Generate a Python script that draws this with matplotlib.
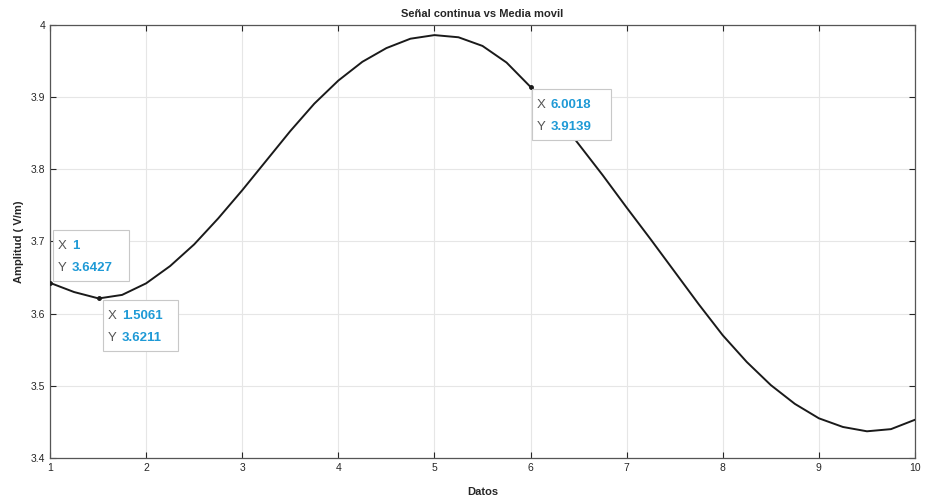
import matplotlib
matplotlib.use("Agg")
import matplotlib.pyplot as plt
from matplotlib.patches import Rectangle

# Data
x_data = [1.0, 1.25, 1.5061, 1.75, 2.0, 2.25, 2.5, 2.75, 3.0, 3.25, 3.5, 3.75,
          4.0, 4.25, 4.5, 4.75, 5.0, 5.25, 5.5, 5.75, 6.0018, 6.25, 6.5, 6.75,
          7.0, 7.25, 7.5, 7.75, 8.0, 8.25, 8.5, 8.75, 9.0, 9.25, 9.5, 9.75, 10.0]
y_data = [3.6427, 3.630, 3.6211, 3.626, 3.642, 3.666, 3.696, 3.732, 3.771, 3.812,
          3.853, 3.891, 3.923, 3.949, 3.968, 3.981, 3.986, 3.983, 3.971, 3.948,
          3.9139, 3.878, 3.835, 3.792, 3.747, 3.703, 3.658, 3.613, 3.570, 3.533,
          3.501, 3.475, 3.455, 3.443, 3.437, 3.440, 3.453]

tip_x = [1, 1.5061, 6.0018]
tip_y = [3.6427, 3.6211, 3.9139]
tip_x_text = ["1", "1.5061", "6.0018"]
tip_y_text = ["3.6427", "3.6211", "3.9139"]

x_ticks = [1, 2, 3, 4, 5, 6, 7, 8, 9, 10]
y_ticks = [3.4, 3.5, 3.6, 3.7, 3.8, 3.9, 4.0]
y_tick_labels = ["3.4", "3.5", "3.6", "3.7", "3.8", "3.9", "4"]

title = "Señal continua vs Media movil"
xlabel = "Datos"
ylabel = "Amplitud ( V/m)"

plt.rcParams['font.family'] = ['Liberation Sans', 'DejaVu Sans']

fig = plt.figure(figsize=(9.25, 4.98), dpi=100)
ax = fig.add_axes([50/925, 40/498, 865/925, 433/498])

ax.plot(x_data, y_data, color='#1a1a1a', lw=1.4, zorder=3,
        solid_joinstyle='round', solid_capstyle='round')
ax.plot(tip_x, tip_y, 'o', color='#1a1a1a', ms=2.5, zorder=4)

ax.set_xlim(1, 10)
ax.set_ylim(3.4, 4.0)
ax.set_xticks(x_ticks)
ax.set_yticks(y_ticks)
ax.set_yticklabels(y_tick_labels)
ax.grid(True, color='#e6e6e6', lw=0.8)
ax.set_axisbelow(True)
ax.tick_params(direction='in', length=4, width=0.8, colors='#262626',
               labelsize=7.5, top=True, right=True, labeltop=False, labelright=False)
for s in ax.spines.values():
    s.set_color('#555555')
    s.set_linewidth(0.9)

ax.set_title(title, fontsize=8, fontweight='bold', color='#262626', pad=6)
ax.set_xlabel(xlabel, fontsize=8, fontweight='bold', color='#262626', labelpad=10)
ax.set_ylabel(ylabel, fontsize=8, fontweight='bold', color='#262626', labelpad=5)

# data tips: box top-left offset (pixels) from the data point
offsets = [(3, 53), (4, -2), (1, -2)]
box_w = [76, 75, 79]
val_color = '#1f9ad6'
lbl_color = '#555555'
fig.canvas.draw()
for i in range(len(tip_x)):
    dx, dy = offsets[i]
    t = ax.transData.transform((tip_x[i], tip_y[i]))
    px0 = t[0] + dx
    py0 = t[1] + dy
    fig.patches.append(Rectangle((px0, py0 - 51), box_w[i], 51, transform=None,
                                 facecolor='white', edgecolor='#c8c8c8', lw=0.8,
                                 zorder=5))
    fig.text(px0 + 5, py0 - 16, "X", transform=None, fontsize=9.5, color=lbl_color,
             va='center', ha='left', zorder=6)
    fig.text(px0 + 19, py0 - 16, tip_x_text[i], transform=None, fontsize=9.5,
             color=val_color, va='center', ha='left', fontweight='bold', zorder=6)
    fig.text(px0 + 5, py0 - 38, "Y", transform=None, fontsize=9.5, color=lbl_color,
             va='center', ha='left', zorder=6)
    fig.text(px0 + 19, py0 - 38, tip_y_text[i], transform=None, fontsize=9.5,
             color=val_color, va='center', ha='left', fontweight='bold', zorder=6)

fig.savefig("out.png", dpi=100)
